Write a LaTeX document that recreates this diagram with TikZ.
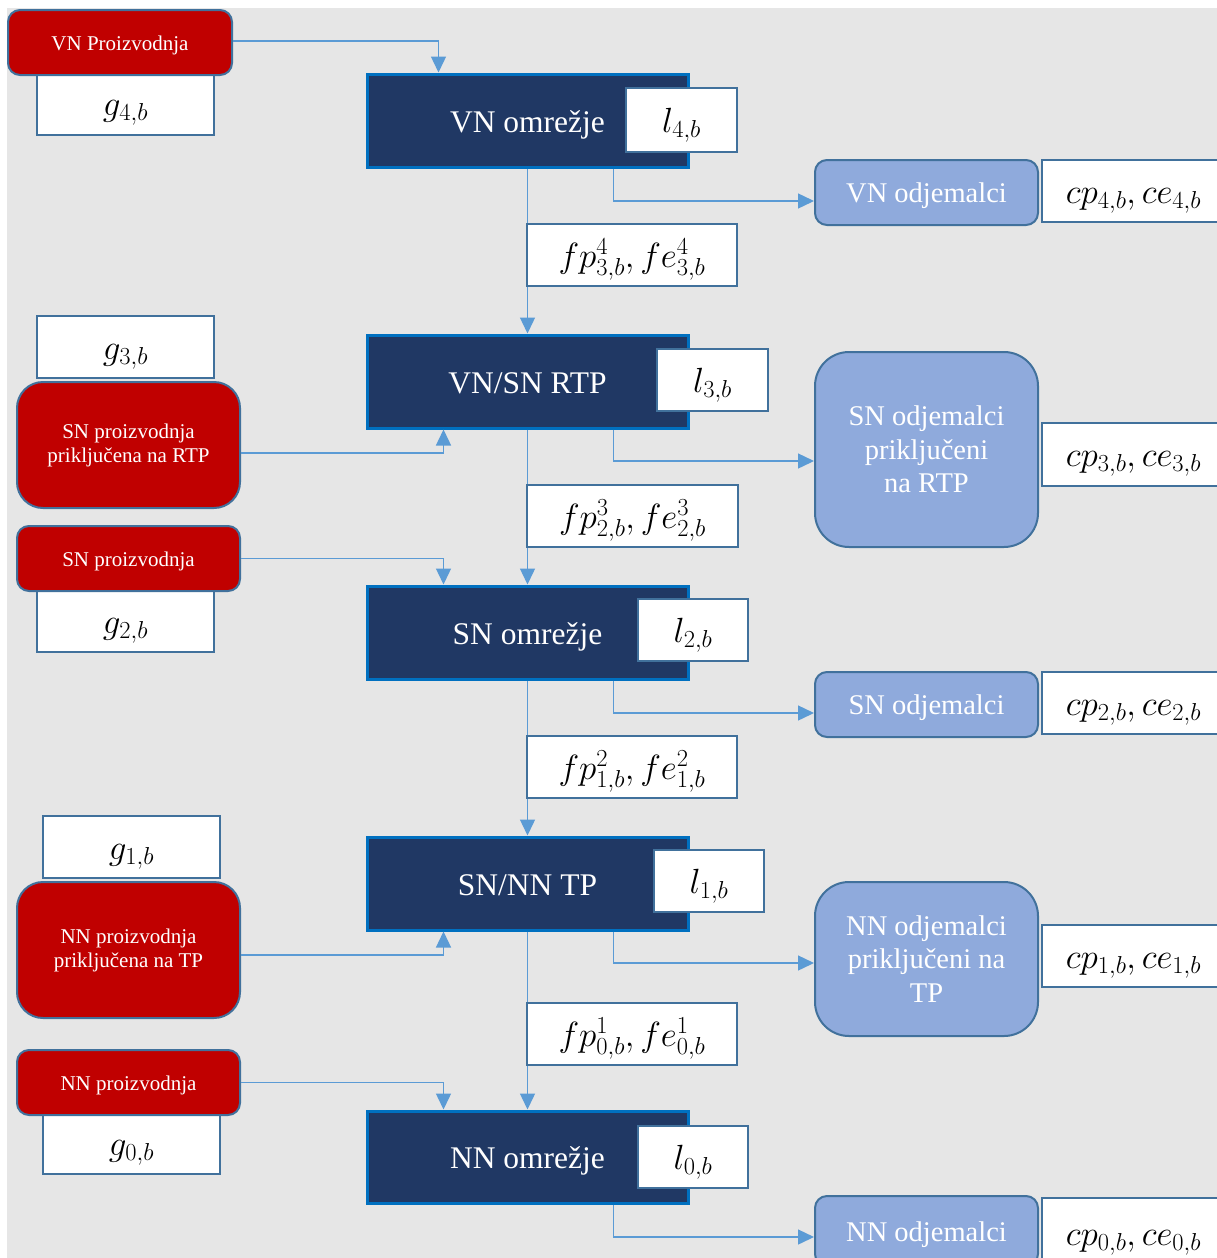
\RequirePackage{fix-cm}
\documentclass[tikz,border=0pt]{standalone}
\usepackage{fontspec}
\setmainfont{Liberation Serif}
\usetikzlibrary{arrows.meta,calc}
\definecolor{bgg}{HTML}{E6E6E6}
\definecolor{navy}{HTML}{203864}
\definecolor{brblue}{HTML}{0070C0}
\definecolor{steel}{HTML}{41719C}
\definecolor{redc}{HTML}{C00000}
\definecolor{lightb}{HTML}{8FAADC}
\definecolor{arrc}{HTML}{5B9BD5}
\newcommand\myboxnode[7]{\node[#1,minimum width={#5-#3},minimum height={#6-#4}] (#2) at ({(#3+#5)/2},{(#4+#6)/2}) {#7};}
\tikzset{
  darkbox/.style={rectangle,inner sep=0pt,fill=navy,draw=brblue,line width=3pt,text=white,font=\fontsize{31.5}{36}\selectfont,text height=23pt,text depth=0pt},
  wbox/.style={rectangle,inner sep=0pt,fill=white,draw=steel,line width=2pt,font=\fontsize{35}{40}\selectfont,text height=24pt,text depth=0pt},
  redbase/.style={rectangle,inner sep=0pt,fill=redc,draw=steel,line width=2pt,text=white,align=center},
  redbox/.style={redbase,rounded corners=12pt,font=\fontsize{21}{24}\selectfont,text height=15pt,text depth=0pt},
  redbig/.style={redbase,rounded corners=26pt,font=\fontsize{21}{24}\selectfont},
  consbase/.style={rectangle,inner sep=0pt,fill=lightb,draw=steel,line width=2pt,text=white,align=center},
  consbox/.style={consbase,rounded corners=12pt,font=\fontsize{28.5}{33.5}\selectfont,text height=20pt,text depth=0pt},
  consbig/.style={consbase,rounded corners=34pt,font=\fontsize{28.5}{33.5}\selectfont},
  arr/.style={draw=arrc,line width=1.4pt,-{Triangle[length=16pt,width=15pt]}}
}
\begin{document}
\begin{tikzpicture}[x=1pt,y=-1pt]
\useasboundingbox (0,0) rectangle (1217,1258);
\fill[bgg] (7,8) rectangle (1217,1258);

% level 4
\myboxnode{wbox}{g4}{37}{72}{214}{135}{$g_{4,b}$}
\myboxnode{redbox}{vnp}{8}{10}{232}{75}{VN Proizvodnja}
\myboxnode{darkbox}{vno}{367}{74}{688}{167}{VN omrežje}
\myboxnode{wbox}{l4}{626}{88}{737}{152}{$l_{4,b}$}
\myboxnode{consbox}{vnc}{815}{160}{1038}{225}{VN odjemalci}
\myboxnode{wbox}{cp4}{1042}{160}{1225}{222}{$cp_{4,b},ce_{4,b}$}

% level 3
\myboxnode{wbox}{g3}{37}{316}{214}{378}{$g_{3,b}$}
\myboxnode{redbig}{snpr}{17}{382}{240}{508}{SN proizvodnja\\priključena na RTP}
\myboxnode{darkbox}{vsr}{367}{335}{688}{428}{VN/SN RTP}
\myboxnode{wbox}{l3}{657}{349}{768}{411}{$l_{3,b}$}
\myboxnode{consbig}{snrc}{815}{352}{1038}{547}{SN odjemalci\\priključeni\\na RTP}
\myboxnode{wbox}{cp3}{1042}{423}{1225}{486}{$cp_{3,b},ce_{3,b}$}

% level 2
\myboxnode{wbox}{g2}{37}{590}{214}{652}{$g_{2,b}$}
\myboxnode{redbox}{snp}{17}{526}{240}{591}{SN proizvodnja}
\myboxnode{darkbox}{sno}{367}{586}{688}{679}{SN omrežje}
\myboxnode{wbox}{l2}{638}{599}{748}{661}{$l_{2,b}$}
\myboxnode{consbox}{snc}{815}{672}{1038}{737}{SN odjemalci}
\myboxnode{wbox}{cp2}{1042}{672}{1225}{734}{$cp_{2,b},ce_{2,b}$}

% level 1
\myboxnode{wbox}{g1}{43}{816}{220}{878}{$g_{1,b}$}
\myboxnode{redbig}{nnpr}{17}{882}{240}{1018}{NN proizvodnja\\priključena na TP}
\myboxnode{darkbox}{snnt}{367}{837}{688}{930}{SN/NN TP}
\myboxnode{wbox}{l1}{654}{850}{764}{912}{$l_{1,b}$}
\myboxnode{consbig}{nntc}{815}{882}{1038}{1036}{NN odjemalci\\priključeni na\\TP}
\myboxnode{wbox}{cp1}{1042}{925}{1225}{987}{$cp_{1,b},ce_{1,b}$}

% level 0
\myboxnode{wbox}{g0}{43}{1113}{220}{1174}{$g_{0,b}$}
\myboxnode{redbox}{nnp}{17}{1050}{240}{1115}{NN proizvodnja}
\myboxnode{darkbox}{nno}{367}{1111}{688}{1203}{NN omrežje}
\myboxnode{wbox}{l0}{638}{1126}{748}{1188}{$l_{0,b}$}
\myboxnode{consbox}{nnc}{815}{1196}{1038}{1266}{NN odjemalci}
\myboxnode{wbox}{cp0}{1042}{1198}{1225}{1268}{$cp_{0,b},ce_{0,b}$}

% connectors
\draw[arr] ($(vnp.east)+(0,-1.5)$) -| ($(vno.north west)+(73,0)$);
\draw[arr] (vno.south) -- (vsr.north);
\draw[arr] ($(vno.south west)+(248,0)$) |- ($(vnc.west)+(0,8.5)$);

\draw[arr] ($(snpr.east)+(0,8)$) -| ($(vsr.south west)+(78,0)$);
\draw[arr] ($(vsr.south west)+(248,0)$) |- ($(snrc.west)+(0,11.5)$);
\draw[arr] (vsr.south) -- (sno.north);

\draw[arr] (snp.east) -| ($(sno.north west)+(78,0)$);
\draw[arr] ($(sno.south west)+(248,0)$) |- ($(snc.west)+(0,8.5)$);
\draw[arr] (sno.south) -- (snnt.north);

\draw[arr] ($(nnpr.east)+(0,5)$) -| ($(snnt.south west)+(78,0)$);
\draw[arr] ($(snnt.south west)+(248,0)$) |- ($(nntc.west)+(0,4)$);
\draw[arr] (snnt.south) -- (nno.north);

\draw[arr] (nnp.east) -| ($(nno.north west)+(78,0)$);
\draw[arr] ($(nno.south west)+(248,0)$) |- ($(nnc.west)+(0,6)$);

% flow boxes on top of the vertical lines
\myboxnode{wbox}{fp4}{527}{224}{737}{286}{$fp^{4}_{3,b},fe^{4}_{3,b}$}
\myboxnode{wbox}{fp3}{527}{485}{738}{547}{$fp^{3}_{2,b},fe^{3}_{2,b}$}
\myboxnode{wbox}{fp2}{527}{736}{737}{798}{$fp^{2}_{1,b},fe^{2}_{1,b}$}
\myboxnode{wbox}{fp1}{527}{1003}{737}{1065}{$fp^{1}_{0,b},fe^{1}_{0,b}$}
\end{tikzpicture}
\end{document}
